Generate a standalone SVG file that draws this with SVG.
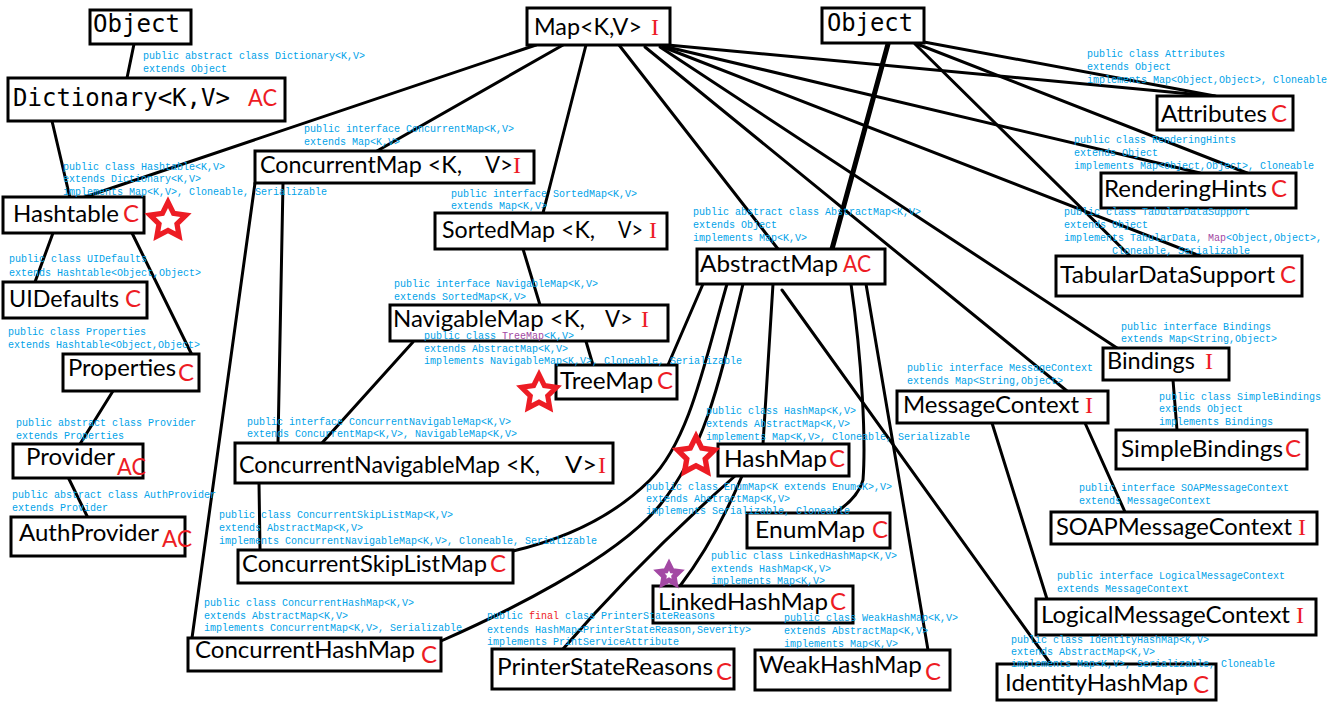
<svg xmlns="http://www.w3.org/2000/svg" xmlns:xlink="http://www.w3.org/1999/xlink" width="1333" height="711" viewBox="0 0 1333 711">
<style>
.bx{fill:#fff;stroke:#000;stroke-width:3}
.t{font-family:Lato,"Open Sans","Liberation Sans",sans-serif;font-size:23px;fill:#000}
.m{font-family:"DejaVu Sans Mono","Liberation Mono",monospace;font-size:24px;fill:#000}
.r{font-family:Lato,"Liberation Sans",sans-serif;font-size:24px;fill:#ed1c24}
.ri{font-family:"Liberation Serif",serif;font-size:24px;fill:#ed1c24}
.a{font-family:"Liberation Mono",monospace;font-size:10px;fill:#00a2e8}
.pu{fill:#a349a4}
.rd{fill:#ed1c24}
.ln{stroke:#000;stroke-width:3;fill:none;stroke-linecap:round}
.thick{stroke-width:5}
.star{fill:#fff;stroke:#ed1c24;stroke-width:5;stroke-linejoin:miter}
</style>
<defs>
<polygon id="star" points="0,-18 5.29,-7.28 17.12,-5.56 8.56,2.78 10.58,14.56 0,9 -10.58,14.56 -8.56,2.78 -17.12,-5.56 -5.29,-7.28"/>
</defs>
<rect width="1333" height="711" fill="#fff"/>
<g id="connectors">
<path class="ln" d="M134,44 L127,78"/>
<path class="ln" d="M52,121 L70,198"/>
<path class="ln" d="M53,233 L35,282"/>
<path class="ln" d="M132,233 L193,357"/>
<path class="ln" d="M113,391 L80,444"/>
<path class="ln" d="M68,477 L88,518"/>
<path class="ln" d="M536,45 L82,198"/>
<path class="ln" d="M563,45 L377,151"/>
<path class="ln" d="M586,45 L543,213"/>
<path class="ln" d="M619,45 L778,249"/>
<path class="ln" d="M657,44 L1223,97"/>
<path class="ln" d="M663,46 L1200,173"/>
<path class="ln" d="M663,47 L1200,256"/>
<path class="ln" d="M660,47 L1117,348"/>
<path class="ln" d="M645,47 L1067,391"/>
<path class="ln" d="M924,42 L1215,96"/>
<path class="ln" d="M917,44 L1247,173"/>
<path class="ln" d="M915,44 L1130,256"/>
<path class="ln thick" d="M888,44 L832,249"/>
<path class="ln" d="M255,183 L192,638"/>
<path class="ln" d="M283,183 L278,443"/>
<path class="ln" d="M523,249 L540,305"/>
<path class="ln" d="M413,342 L322,443"/>
<path class="ln" d="M585,338 L593,365"/>
<path class="ln" d="M259,483 L260,550"/>
<path class="ln" d="M703,284 L668,365"/>
<path class="ln" d="M727,284 C705,360 690,440 650,480 S560,540 513,551"/>
<path class="ln" d="M743,284 C720,380 705,450 660,505 S500,615 441,641"/>
<path class="ln" d="M773,284 L763,444"/>
<path class="ln" d="M851,284 C862,360 866,440 863,480 Q858,498 835,513"/>
<path class="ln" d="M866,284 L928,650"/>
<path class="ln" d="M782,290 L1050,663"/>
<path class="ln" d="M742,476 Q715,540 680,586"/>
<path class="ln" d="M735,476 Q640,560 563,649"/>
<path class="ln" d="M1085,423 L1125,512"/>
<path class="ln" d="M992,423 L1047,599"/>
<path class="ln" d="M1173,380 L1177,430"/>
</g>
<g id="objectLeft">
<rect class="bx" x="90" y="10" width="101" height="34"/>
<text class="m" x="93" y="32" textLength="87" lengthAdjust="spacingAndGlyphs">Object</text>
</g>
<g id="dictionary">
<rect class="bx" x="8" y="78" width="277" height="43"/>
<text class="m" x="13" y="106"><tspan textLength="217" lengthAdjust="spacingAndGlyphs">Dictionary&lt;K,V&gt;</tspan> <tspan class="r" x="248" textLength="29" lengthAdjust="spacingAndGlyphs">AC</tspan></text>
<text class="a" x="143" y="59">public abstract class Dictionary&lt;K,V&gt;<tspan x="143" y="72">extends Object</tspan></text>
</g>
<g id="map">
<rect class="bx" x="527" y="8" width="143" height="37"/>
<text class="t" x="534" y="35"><tspan textLength="108" lengthAdjust="spacingAndGlyphs">Map&lt;K,V&gt;</tspan> <tspan class="ri" x="651">I</tspan></text>
</g>
<g id="objectRight">
<rect class="bx" x="822" y="8" width="102" height="35"/>
<text class="m" x="827" y="31" textLength="86" lengthAdjust="spacingAndGlyphs">Object</text>
</g>
<g id="attributes">
<rect class="bx" x="1157" y="96" width="136" height="34"/>
<text class="t" x="1161" y="122"><tspan textLength="106" lengthAdjust="spacingAndGlyphs">Attributes</tspan><tspan class="r" x="1271">C</tspan></text>
<text class="a" x="1087" y="57">public class Attributes<tspan x="1087" y="70">extends Object</tspan><tspan x="1087" y="83">implements Map&lt;Object,Object&gt;, Cloneable</tspan></text>
</g>
<g id="renderingHints">
<rect class="bx" x="1101" y="173" width="195" height="35"/>
<text class="t" x="1104" y="197"><tspan textLength="163" lengthAdjust="spacingAndGlyphs">RenderingHints</tspan><tspan class="r" x="1271">C</tspan></text>
<text class="a" x="1074" y="143">public class RenderingHints<tspan x="1074" y="156">extends Object</tspan><tspan x="1074" y="169">implements Map&lt;Object,Object&gt;, Cloneable</tspan></text>
</g>
<g id="tabularDataSupport">
<rect class="bx" x="1056" y="256" width="246" height="40"/>
<text class="t" x="1060" y="283"><tspan textLength="215" lengthAdjust="spacingAndGlyphs">TabularDataSupport</tspan><tspan class="r" x="1280">C</tspan></text>
<text class="a" x="1064" y="215">public class TabularDataSupport<tspan x="1064" y="228">extends Object</tspan><tspan x="1064" y="241">implements TabularData, <tspan class="pu">Map</tspan>&lt;Object,Object&gt;,</tspan><tspan x="1112" y="254">Cloneable, Serializable</tspan></text>
</g>
<g id="bindings">
<rect class="bx" x="1103" y="348" width="126" height="32"/>
<text class="t" x="1107" y="369"><tspan textLength="88" lengthAdjust="spacingAndGlyphs">Bindings</tspan> <tspan class="ri" x="1205">I</tspan></text>
<text class="a" x="1121" y="330">public interface Bindings<tspan x="1121" y="342">extends Map&lt;String,Object&gt;</tspan></text>
</g>
<g id="messageContext">
<rect class="bx" x="897" y="391" width="211" height="32"/>
<text class="t" x="903" y="413"><tspan textLength="176" lengthAdjust="spacingAndGlyphs">MessageContext</tspan> <tspan class="ri" x="1085">I</tspan></text>
<text class="a" x="907" y="371">public interface MessageContext<tspan x="907" y="384">extends Map&lt;String,Object&gt;</tspan></text>
</g>
<g id="simpleBindings">
<rect class="bx" x="1116" y="430" width="191" height="39"/>
<text class="t" x="1121" y="457"><tspan textLength="162" lengthAdjust="spacingAndGlyphs">SimpleBindings</tspan><tspan class="r" x="1285">C</tspan></text>
<text class="a" x="1159" y="400">public class SimpleBindings<tspan x="1159" y="412">extends Object</tspan><tspan x="1159" y="425">implements Bindings</tspan></text>
</g>
<g id="soapMessageContext">
<rect class="bx" x="1051" y="512" width="266" height="32"/>
<text class="t" x="1056" y="535"><tspan textLength="236" lengthAdjust="spacingAndGlyphs">SOAPMessageContext</tspan> <tspan class="ri" x="1298">I</tspan></text>
<text class="a" x="1079" y="491">public interface SOAPMessageContext<tspan x="1079" y="504">extends MessageContext</tspan></text>
</g>
<g id="logicalMessageContext">
<rect class="bx" x="1036" y="599" width="280" height="36"/>
<text class="t" x="1041" y="623"><tspan textLength="249" lengthAdjust="spacingAndGlyphs">LogicalMessageContext</tspan> <tspan class="ri" x="1296">I</tspan></text>
<text class="a" x="1057" y="579">public interface LogicalMessageContext<tspan x="1057" y="592">extends MessageContext</tspan></text>
</g>
<g id="identityHashMap">
<rect class="bx" x="997" y="664" width="219" height="36"/>
<text class="t" x="1005" y="691"><tspan textLength="183" lengthAdjust="spacingAndGlyphs">IdentityHashMap</tspan> <tspan class="r" x="1193" y="693">C</tspan></text>
<text class="a" x="1011" y="643">public class IdentityHashMap&lt;K,V&gt;<tspan x="1011" y="655">extends AbstractMap&lt;K,V&gt;</tspan><tspan x="1011" y="667">implements Map&lt;K,V&gt;, Serializable, Cloneable</tspan></text>
</g>
<g id="linkedHashMap">
<rect class="bx" x="653" y="586" width="200" height="37"/>
<text class="t" x="658" y="610"><tspan textLength="170" lengthAdjust="spacingAndGlyphs">LinkedHashMap</tspan><tspan class="r" x="830">C</tspan></text>
<text class="a" x="711" y="559">public class LinkedHashMap&lt;K,V&gt;<tspan x="711" y="572">extends HashMap&lt;K,V&gt;</tspan><tspan x="711" y="584">implements Map&lt;K,V&gt;</tspan></text>
</g>
<g id="weakHashMap">
<rect class="bx" x="755" y="650" width="195" height="40"/>
<text class="t" x="759" y="673"><tspan textLength="163" lengthAdjust="spacingAndGlyphs">WeakHashMap</tspan> <tspan class="r" x="925" y="680">C</tspan></text>
<text class="a" x="784" y="621">public class WeakHashMap&lt;K,V&gt;<tspan x="784" y="634">extends AbstractMap&lt;K,V&gt;</tspan><tspan x="784" y="647">implements Map&lt;K,V&gt;</tspan></text>
</g>
<g id="printerStateReasons">
<rect class="bx" x="492" y="649" width="242" height="40"/>
<text class="t" x="497" y="675"><tspan textLength="216" lengthAdjust="spacingAndGlyphs">PrinterStateReasons</tspan><tspan class="r" x="716" y="680">C</tspan></text>
<text class="a" x="487" y="619">public <tspan class="rd">final</tspan> class PrinterStateReasons<tspan x="487" y="633">extends HashMap&lt;PrinterStateReason,Severity&gt;</tspan><tspan x="487" y="645">implements PrintServiceAttribute</tspan></text>
</g>
<g id="enumMap">
<rect class="bx" x="747" y="513" width="143" height="35"/>
<text class="t" x="755" y="538"><tspan textLength="110" lengthAdjust="spacingAndGlyphs">EnumMap</tspan> <tspan class="r" x="872">C</tspan></text>
<text class="a" x="646" y="490">public class EnumMap&lt;K extends Enum&lt;K&gt;,V&gt;<tspan x="646" y="502">extends AbstractMap&lt;K,V&gt;</tspan><tspan x="646" y="514">implements Serializable, Cloneable</tspan></text>
</g>
<g id="hashMap">
<rect class="bx" x="718" y="444" width="131" height="32"/>
<text class="t" x="724" y="467"><tspan textLength="103" lengthAdjust="spacingAndGlyphs">HashMap</tspan><tspan class="r" x="829">C</tspan></text>
<text class="a" x="706" y="414">public class HashMap&lt;K,V&gt;<tspan x="706" y="427">extends AbstractMap&lt;K,V&gt;</tspan><tspan x="706" y="440">implements Map&lt;K,V&gt;, Cloneable, Serializable</tspan></text>
</g>
<g id="abstractMap">
<rect class="bx" x="697" y="249" width="188" height="35"/>
<text class="t" x="700" y="272"><tspan textLength="138" lengthAdjust="spacingAndGlyphs">AbstractMap</tspan> <tspan class="r" x="843" textLength="28" lengthAdjust="spacingAndGlyphs">AC</tspan></text>
<text class="a" x="693" y="215">public abstract class AbstractMap&lt;K,V&gt;<tspan x="693" y="228">extends Object</tspan><tspan x="693" y="241">implements Map&lt;K,V&gt;</tspan></text>
</g>
<g id="navigableMap">
<rect class="bx" x="390" y="305" width="278" height="36"/>
<text class="t" x="393" y="327"><tspan textLength="192" lengthAdjust="spacingAndGlyphs">NavigableMap &lt;K,</tspan> <tspan x="605" textLength="28" lengthAdjust="spacingAndGlyphs">V&gt;</tspan> <tspan class="ri" x="641">I</tspan></text>
<text class="a" x="394" y="287">public interface NavigableMap&lt;K,V&gt;<tspan x="394" y="300">extends SortedMap&lt;K,V&gt;</tspan></text>
</g>
<g id="treeMap">
<rect class="bx" x="556" y="365" width="121" height="34"/>
<text class="t" x="560" y="389"><tspan textLength="93" lengthAdjust="spacingAndGlyphs">TreeMap</tspan><tspan class="r" x="657">C</tspan></text>
<text class="a" x="424" y="339">public class <tspan class="pu">TreeMap</tspan>&lt;K,V&gt;<tspan x="424" y="352">extends AbstractMap&lt;K,V&gt;</tspan><tspan x="424" y="364">implements NavigableMap&lt;K,V&gt;, Cloneable, Serializable</tspan></text>
</g>
<g id="sortedMap">
<rect class="bx" x="435" y="213" width="232" height="36"/>
<text class="t" x="442" y="238"><tspan textLength="153" lengthAdjust="spacingAndGlyphs">SortedMap &lt;K,</tspan> <tspan x="618" textLength="25" lengthAdjust="spacingAndGlyphs">V&gt;</tspan><tspan class="ri" x="649">I</tspan></text>
<text class="a" x="451" y="197">public interface SortedMap&lt;K,V&gt;<tspan x="451" y="209">extends Map&lt;K,V&gt;</tspan></text>
</g>
<g id="concurrentMap">
<rect class="bx" x="255" y="151" width="279" height="32"/>
<text class="t" x="260" y="173"><tspan textLength="202" lengthAdjust="spacingAndGlyphs">ConcurrentMap &lt;K,</tspan> <tspan x="485" textLength="28" lengthAdjust="spacingAndGlyphs">V&gt;</tspan><tspan class="ri" x="513">I</tspan></text>
<text class="a" x="304" y="132">public interface ConcurrentMap&lt;K,V&gt;<tspan x="304" y="145">extends Map&lt;K,V&gt;</tspan></text>
</g>
<g id="concurrentNavigableMap">
<rect class="bx" x="235" y="443" width="378" height="40"/>
<text class="t" x="239" y="473"><tspan textLength="301" lengthAdjust="spacingAndGlyphs">ConcurrentNavigableMap &lt;K,</tspan> <tspan x="565" textLength="32" lengthAdjust="spacingAndGlyphs">V&gt;</tspan><tspan class="ri" x="598">I</tspan></text>
<text class="a" x="247" y="425">public interface ConcurrentNavigableMap&lt;K,V&gt;<tspan x="247" y="437">extends ConcurrentMap&lt;K,V&gt;, NavigableMap&lt;K,V&gt;</tspan></text>
</g>
<g id="concurrentSkipListMap">
<rect class="bx" x="238" y="550" width="275" height="33"/>
<text class="t" x="242" y="572"><tspan textLength="245" lengthAdjust="spacingAndGlyphs">ConcurrentSkipListMap</tspan><tspan class="r" x="490">C</tspan></text>
<text class="a" x="219" y="518">public class ConcurrentSkipListMap&lt;K,V&gt;<tspan x="219" y="531">extends AbstractMap&lt;K,V&gt;</tspan><tspan x="219" y="544">implements ConcurrentNavigableMap&lt;K,V&gt;, Cloneable, Serializable</tspan></text>
</g>
<g id="concurrentHashMap">
<rect class="bx" x="188" y="638" width="253" height="33"/>
<text class="t" x="195" y="658"><tspan textLength="220" lengthAdjust="spacingAndGlyphs">ConcurrentHashMap</tspan> <tspan class="r" x="421" y="663">C</tspan></text>
<text class="a" x="204" y="606">public class ConcurrentHashMap&lt;K,V&gt;<tspan x="204" y="619">extends AbstractMap&lt;K,V&gt;</tspan><tspan x="204" y="631">implements ConcurrentMap&lt;K,V&gt;, Serializable</tspan></text>
</g>
<g id="hashtable">
<rect class="bx" x="3" y="197" width="141" height="36"/>
<text class="t" x="13" y="222"><tspan textLength="106" lengthAdjust="spacingAndGlyphs">Hashtable</tspan><tspan class="r" x="123">C</tspan></text>
<text class="a" x="63" y="170">public class Hashtable&lt;K,V&gt;<tspan x="63" y="182">extends Dictionary&lt;K,V&gt;</tspan><tspan x="63" y="195">implements Map&lt;K,V&gt;, Cloneable, Serializable</tspan></text>
</g>
<g id="uiDefaults">
<rect class="bx" x="3" y="282" width="144" height="36"/>
<text class="t" x="9" y="307"><tspan textLength="110" lengthAdjust="spacingAndGlyphs">UIDefaults</tspan> <tspan class="r" x="125">C</tspan></text>
<text class="a" x="9" y="262">public class UIDefaults<tspan x="9" y="276">extends Hashtable&lt;Object,Object&gt;</tspan></text>
</g>
<g id="properties">
<rect class="bx" x="63" y="354" width="136" height="37"/>
<text class="t" x="68" y="376"><tspan textLength="108" lengthAdjust="spacingAndGlyphs">Properties</tspan><tspan class="r" x="178" y="381">C</tspan></text>
<text class="a" x="8" y="335">public class Properties<tspan x="8" y="348">extends Hashtable&lt;Object,Object&gt;</tspan></text>
</g>
<g id="provider">
<rect class="bx" x="13" y="444" width="130" height="34"/>
<text class="t" x="26" y="465"><tspan textLength="89" lengthAdjust="spacingAndGlyphs">Provider</tspan><tspan class="r" x="117" y="475" textLength="29" lengthAdjust="spacingAndGlyphs">AC</tspan></text>
<text class="a" x="16" y="426">public abstract class Provider<tspan x="16" y="439">extends Properties</tspan></text>
</g>
<g id="authProvider">
<rect class="bx" x="11" y="517" width="174" height="39"/>
<text class="t" x="19" y="541"><tspan textLength="140" lengthAdjust="spacingAndGlyphs">AuthProvider</tspan><tspan class="r" x="162" y="547" textLength="30" lengthAdjust="spacingAndGlyphs">AC</tspan></text>
<text class="a" x="12" y="498">public abstract class AuthProvider<tspan x="12" y="511">extends Provider</tspan></text>
</g>
<g id="stars">
<use xlink:href="#star" class="star" transform="translate(168,221) scale(1.05)"/>
<use xlink:href="#star" class="star" transform="translate(539,393) scale(1.02)"/>
<use xlink:href="#star" class="star" transform="translate(696,456) scale(1.08)"/>
<use xlink:href="#star" transform="translate(669,575) scale(0.82)" fill="#a349a4" stroke="#a349a4" stroke-width="2"/>
<use xlink:href="#star" transform="translate(669,575) scale(0.25)" fill="#fff"/>
</g>
</svg>
